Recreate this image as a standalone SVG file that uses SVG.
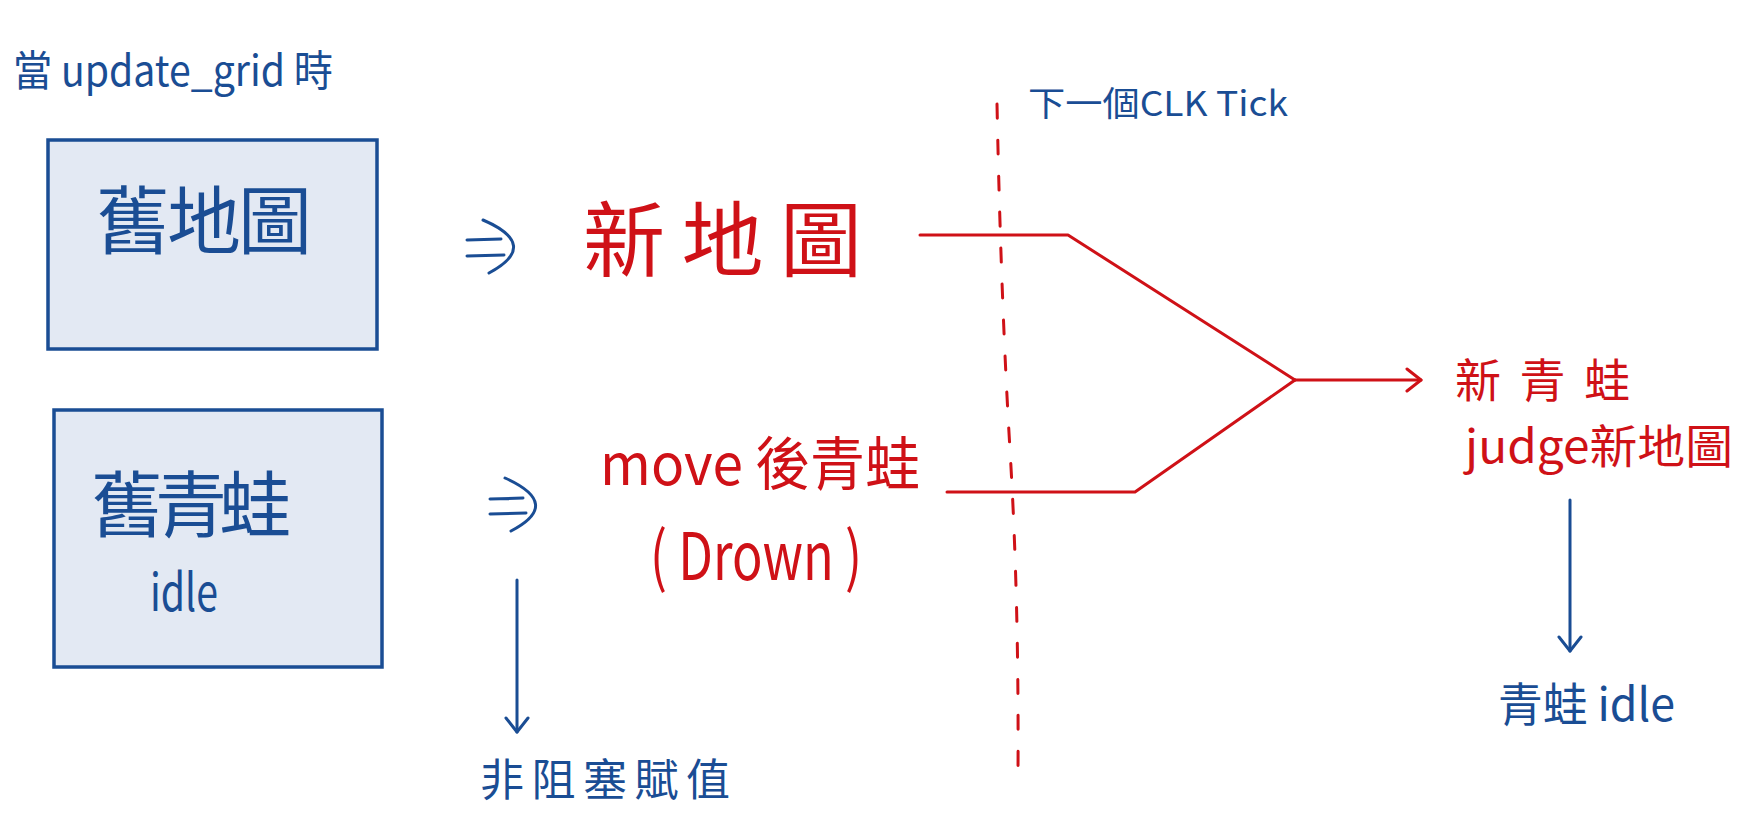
<svg xmlns="http://www.w3.org/2000/svg" width="1764" height="816" viewBox="0 0 1764 816">
<defs>
<style>
.blue{fill:#1a4d94;font-family:"Noto Sans CJK TC","Noto Sans","Liberation Sans",sans-serif;}
.red{fill:#cf1117;font-family:"Noto Sans CJK TC","Noto Sans","Liberation Sans",sans-serif;}
.box{fill:#e3e9f3;stroke:#1a4d94;stroke-width:3.5;}
.bl{fill:none;stroke:#1a4d94;stroke-width:3;stroke-linecap:round;stroke-linejoin:round;}
.rl{fill:none;stroke:#cf1117;stroke-width:3;stroke-linecap:round;stroke-linejoin:round;}
</style>
<marker id="ahB" markerUnits="userSpaceOnUse" markerWidth="30" markerHeight="30" refX="16" refY="12" orient="auto" viewBox="0 0 30 24">
<path d="M2,1 L16,12 L2,23" fill="none" stroke="#1a4d94" stroke-width="3" stroke-linecap="round" stroke-linejoin="round"/>
</marker>
<marker id="ahR" markerUnits="userSpaceOnUse" markerWidth="30" markerHeight="30" refX="16" refY="12" orient="auto" viewBox="0 0 30 24">
<path d="M2,1 L16,12 L2,23" fill="none" stroke="#cf1117" stroke-width="3" stroke-linecap="round" stroke-linejoin="round"/>
</marker>
</defs>
<rect width="1764" height="816" fill="#ffffff"/>

<g id="title">
<text class="blue" x="13" y="86" font-size="42" textLength="320" lengthAdjust="spacingAndGlyphs">當 update_grid 時</text>
</g>

<g id="old-map">
<rect class="box" x="48" y="140" width="329" height="209"/>
<text class="blue" x="96" y="248" font-size="74" textLength="216" lengthAdjust="spacing">舊地圖</text>
</g>

<g id="old-frog">
<rect class="box" x="54" y="410" width="328" height="257"/>
<text class="blue" x="91" y="531" font-size="72" textLength="200" lengthAdjust="spacing">舊青蛙</text>
<text class="blue" x="150" y="611" font-size="52" textLength="68" lengthAdjust="spacingAndGlyphs">idle</text>
</g>

<g id="new-map">
<text class="red" x="583" y="270" font-size="82" textLength="279" lengthAdjust="spacing">新地圖</text>
</g>

<g id="moved-frog">
<text class="red" x="600" y="485" font-size="58" textLength="320" lengthAdjust="spacingAndGlyphs">move 後青蛙</text>
<text class="red" x="650" y="580" font-size="66" textLength="212" lengthAdjust="spacingAndGlyphs">( Drown )</text>
</g>

<g id="clk-label">
<text class="blue" x="1028" y="116" font-size="34" textLength="260" lengthAdjust="spacingAndGlyphs">下一個CLK Tick</text>
</g>

<g id="new-frog">
<text class="red" x="1455" y="397" font-size="46" textLength="175" lengthAdjust="spacing">新青蛙</text>
<text class="red" x="1465" y="463" font-size="46" textLength="268" lengthAdjust="spacingAndGlyphs">judge新地圖</text>
</g>

<g id="frog-idle">
<text class="blue" x="1498" y="721" font-size="46" textLength="177" lengthAdjust="spacingAndGlyphs">青蛙 idle</text>
</g>

<g id="nonblocking">
<text class="blue" x="480" y="796" font-size="44" textLength="250" lengthAdjust="spacing">非阻塞賦值</text>
</g>

<g id="connectors">
<path class="bl" d="M467,240 L501,239 M467,256 L504,255 M483,220 Q541,245 489,273"/>
<path class="bl" d="M490,499 L523,498 M490,514 L526,513 M505,478 Q563,504 511,531"/>
<path class="rl" d="M997,104 Q1001,300 1010,450 T1018,772" stroke-dasharray="14 22"/>
<path class="rl" d="M920,235 L1068,235 L1295,380"/>
<path class="rl" d="M947,492 L1135,492 L1295,380"/>
<path class="rl" d="M1295,380 L1421,380" marker-end="url(#ahR)"/>
<path class="bl" d="M517,580 L517,732" marker-end="url(#ahB)"/>
<path class="bl" d="M1570,500 L1570,651" marker-end="url(#ahB)"/>
</g>
</svg>
